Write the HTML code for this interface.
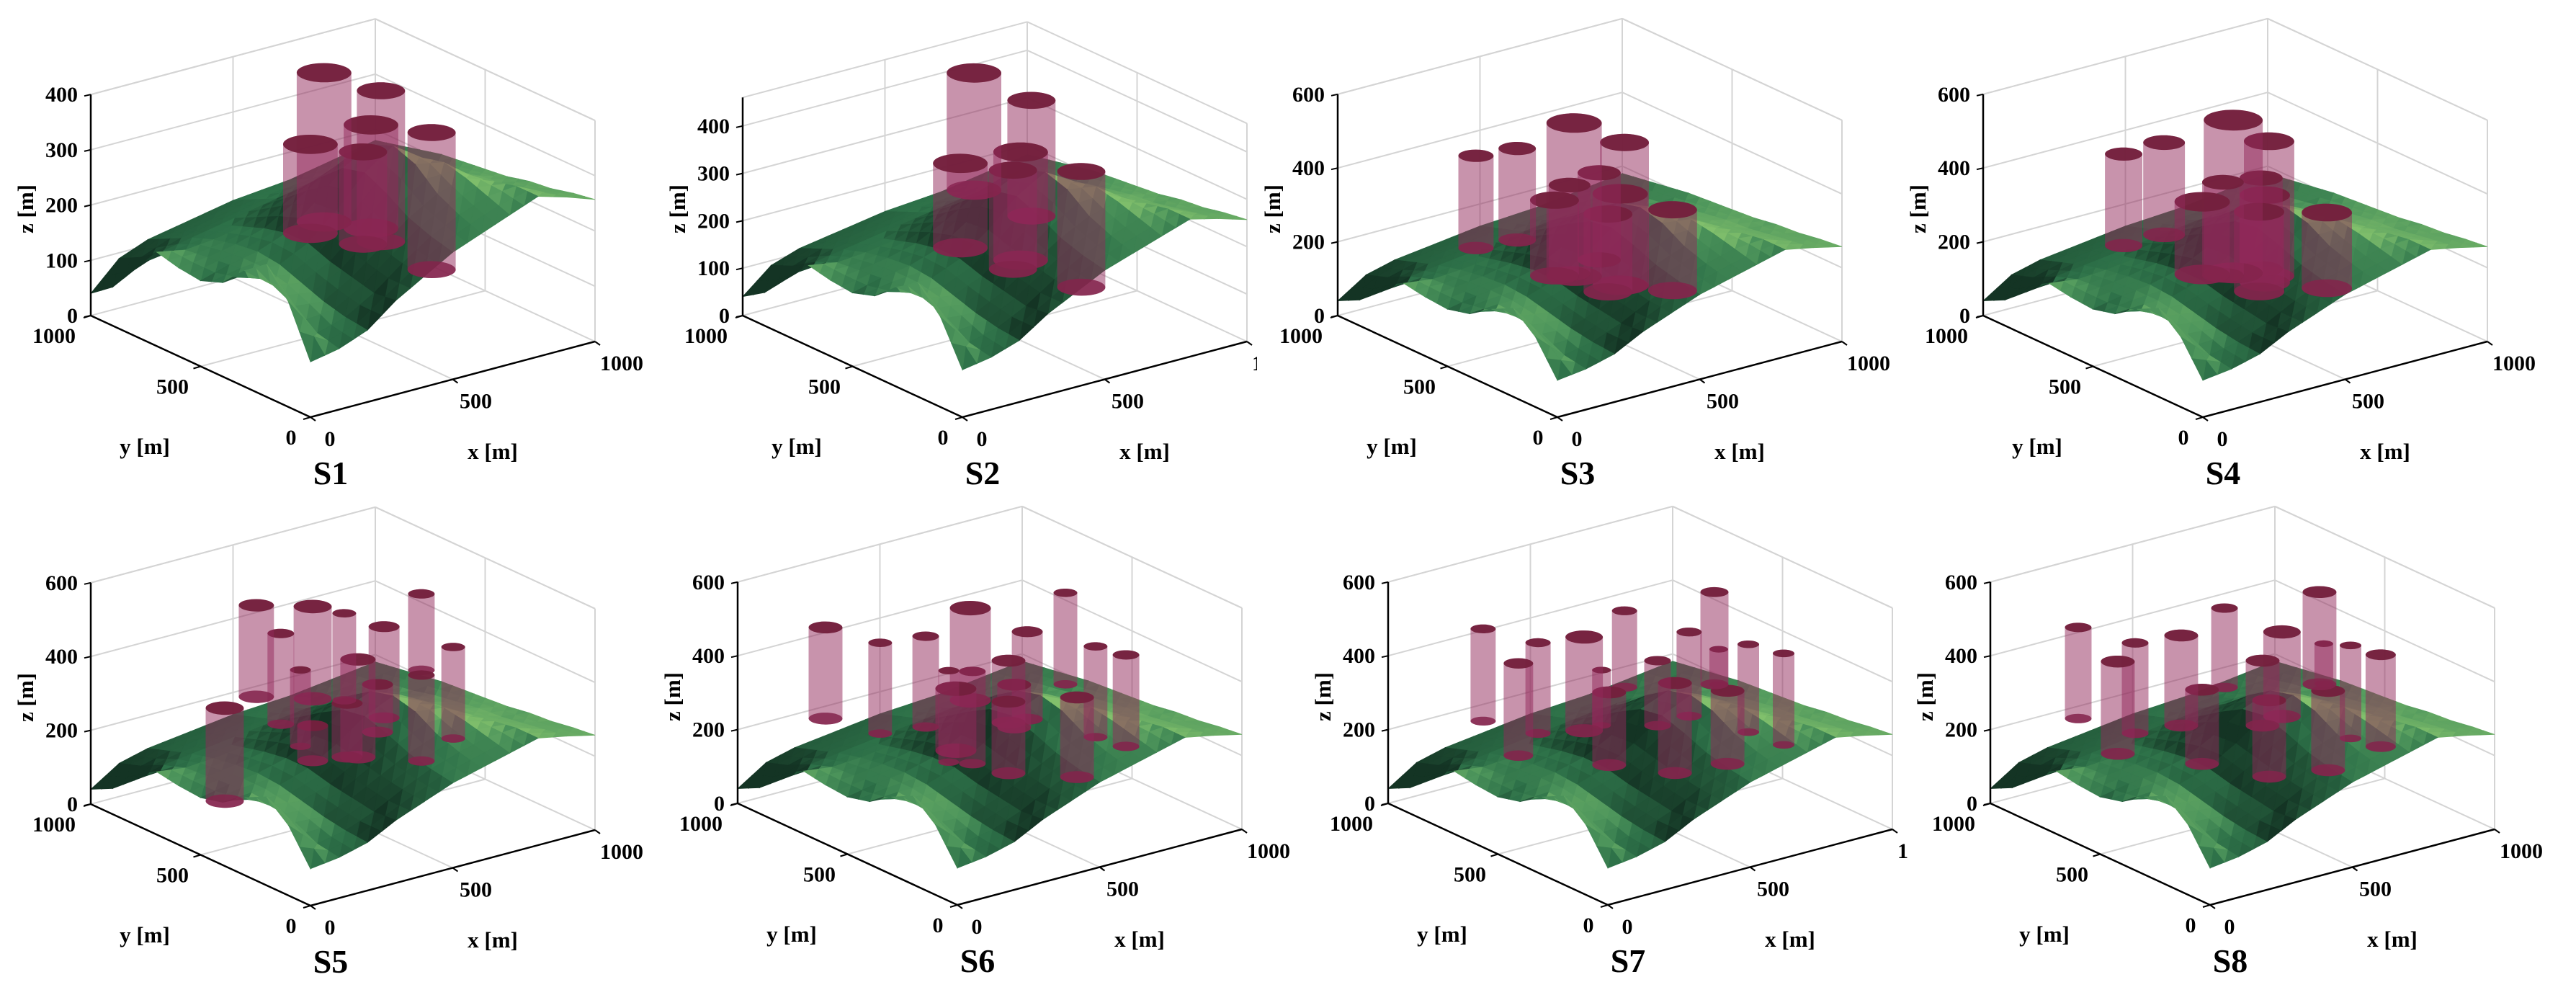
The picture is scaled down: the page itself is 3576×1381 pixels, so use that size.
<!DOCTYPE html>
<html><head><meta charset="utf-8">
<style>
html,body{margin:0;padding:0;background:#fff;}
svg{display:block;}
text{font-family:"Liberation Serif",serif;font-weight:bold;fill:#000;}
</style></head>
<body>
<svg id="fig" width="3576" height="1381" viewBox="0 0 3576 1381" xmlns="http://www.w3.org/2000/svg">
<rect x="0" y="0" width="3576" height="1381" fill="#fff"/>
</svg>
<script>
// ---------- data ----------
// terrain heights [m]: rows y = 0..1000 step 100, cols x = 0..1000 step 100
const terrainZ = [
[100,110,130,170,200,230,250,270,290,275,257],
[190,120,135,165,205,240,265,285,290,265,250],
[240,150,145,175,215,255,285,300,280,255,240],
[210,170,160,185,230,280,320,310,270,245,235],
[170,175,175,200,245,300,335,300,260,240,225],
[155,170,180,200,240,290,320,290,250,230,220],
[160,165,175,190,220,255,280,260,235,220,215],
[170,160,165,175,195,215,230,225,215,205,210],
[120,140,150,160,170,180,190,195,195,195,200],
[70,110,130,140,150,160,165,170,175,180,190],
[40,90,110,120,130,140,145,150,160,170,180]
];
const xTicks = [0,500,1000];
const yTicks = [0,500,1000];
const zTicksA = [0,100,200,300,400];
const zTicksB = [0,200,400,600];
const panelNames = ["S1","S2","S3","S4","S5","S6","S7","S8"];

// cylinders per scenario: centre x, centre y, radius, bottom z, top z [m]
const s1X = [511,711,676,889,463,648];
const s1Y = [600,600,600,600,600,600];
const s1R = [76,67,76,67,76,67];
const s1Zb = [173,110,139,35,159,114];
const s1Zt = [443,383,326,283,320,281];

const s2X = [504,706,668,456,641,881];
const s2Y = [600,600,600,600,600,600];
const s2R = [76,67,76,76,67,67];
const s2Zb = [270,183,96,156,81,5];
const s2Zt = [517,427,324,334,290,249];

const s3X = [177,322,522,699,610,506,453,684,641,868];
const s3Y = [600,600,600,600,600,600,600,600,600,600];
const s3R = [49,52,77,68,60,58,68,77,68,68];
const s3Zb = [257,249,110,49,136,120,125,52,43,0];
const s3Zt = [507,497,525,436,372,360,330,300,254,219];

const s4X = [185,327,570,696,668,534,461,681,661,899];
const s4Y = [600,600,600,600,600,600,600,600,600,600];
const s4R = [52,58,82,70,60,58,77,70,70,70];
const s4Zb = [262,262,109,75,100,110,127,60,40,0];
const s4Zt = [510,512,523,440,346,362,324,297,256,205];

const s5X = [273,471,582,359,722,853,965,162,428,630,471,592,699,853];
const s5Y = [600,600,600,600,600,600,600,600,600,600,600,600,600,600];
const s5R = [49,53,33,37,43,37,33,53,29,49,43,43,43,37];
const s5Zb = [345,299,272,253,196,298,90,85,179,108,131,116,162,52];
const s5Zt = [593,549,508,499,443,505,338,337,386,373,226,262,291,285];

const s6X = [0,192,352,509,709,843,949,1056,643,433,516,458,663,643,884];
const s6Y = [600,600,600,600,600,600,600,600,600,600,600,600,600,600,600];
const s6R = [47,33,37,57,43,33,33,37,47,29,37,57,47,47,47];
const s6Zb = [340,260,245,285,193,260,95,48,197,133,112,159,180,60,0];
const s6Zt = [587,506,491,535,430,508,341,296,365,381,362,327,296,254,216];

const s7X = [25,149,218,380,522,749,838,957,1081,638,468,699,884,853,441];
const s7Y = [600,600,600,600,600,600,600,600,600,600,600,600,600,600,600];
const s7R = [35,41,35,52,35,35,39,30,30,37,47,47,47,26,26];
const s7Zb = [328,209,255,229,318,193,261,107,47,190,118,49,36,257,231];
const s7Zt = [578,459,501,483,525,421,511,345,295,366,315,293,234,353,381];

const s8X = [0,139,200,362,514,716,848,957,1063,648,435,863,878,671];
const s8Y = [600,600,600,600,600,600,600,600,600,600,600,600,600,600];
const s8R = [37,47,37,47,37,52,47,30,42,47,47,26,47,47];
const s8Zb = [340,216,259,247,319,199,259,90,46,188,128,257,20,45];
const s8Zt = [587,466,504,491,534,428,509,342,295,364,329,366,235,252];

const cylX = [s1X,s2X,s3X,s4X,s5X,s6X,s7X,s8X];
const cylY = [s1Y,s2Y,s3Y,s4Y,s5Y,s6Y,s7Y,s8Y];
const cylR = [s1R,s2R,s3R,s4R,s5R,s6R,s7R,s8R];
const cylZb = [s1Zb,s2Zb,s3Zb,s4Zb,s5Zb,s6Zb,s7Zb,s8Zb];
const cylZt = [s1Zt,s2Zt,s3Zt,s4Zt,s5Zt,s6Zt,s7Zt,s8Zt];

// ---------- layout ----------
const panels = [
 {ax:126, ay:438, zmax:400, k:0.767, zt:zTicksA},
 {ax:1031,ay:438, zmax:460, k:0.658, zt:zTicksA},
 {ax:1857,ay:438, zmax:600, k:0.512, zt:zTicksB, clipX:1745},
 {ax:2753,ay:438, zmax:600, k:0.512, zt:zTicksB},
 {ax:126, ay:1116,zmax:600, k:0.512, zt:zTicksB},
 {ax:1024,ay:1115,zmax:600, k:0.512, zt:zTicksB},
 {ax:1927,ay:1115,zmax:600, k:0.512, zt:zTicksB},
 {ax:2763,ay:1115,zmax:600, k:0.512, zt:zTicksB, clipX:2648}
];
const svg = document.getElementById('fig');
const NS = 'http://www.w3.org/2000/svg';
function mk(tag, attrs, parent){
  const e = document.createElementNS(NS, tag);
  for (const k in attrs) e.setAttribute(k, attrs[k]);
  (parent||svg).appendChild(e);
  return e;
}
function proj(p,x,y,z){
  return [p.ax + 305 + 0.395*x - 0.305*y, p.ay + 141 - 0.105*x - 0.141*y - p.k*z];
}
function pts(arr){ return arr.map(q=>q[0].toFixed(1)+','+q[1].toFixed(1)).join(' '); }

const AX = [0.395,-0.105], BY = [-0.305,-0.141];

function terrainAt(x,y){
  const fi = x/100, fj = y/100;
  const i0 = Math.min(9, Math.floor(fi)), j0 = Math.min(9, Math.floor(fj));
  const u = fi - i0, v = fj - j0;
  const z00 = terrainZ[j0][i0], z10 = terrainZ[j0][i0+1], z01 = terrainZ[j0+1][i0], z11 = terrainZ[j0+1][i0+1];
  return z00*(1-u)*(1-v) + z10*u*(1-v) + z01*(1-u)*v + z11*u*v;
}
const stops = [[20,52,36],[45,112,72],[78,150,92],[130,192,108]];
function shade(t){
  t = Math.max(0, Math.min(0.999, t));
  const f = t*(stops.length-1), i = Math.floor(f), u = f-i;
  const a = stops[i], b = stops[i+1];
  return 'rgb('+a.map((c,n)=>Math.round(c+(b[n]-c)*u)).join(',')+')';
}
const L = (function(){ const v=[0.55,-0.25,0.8]; const n=Math.hypot(...v); return v.map(c=>c/n); })();

function drawTerrain(p, g){
  const N = 20, step = 1000/N;
  const tris = [];
  for (let j=0;j<N;j++) for (let i=0;i<N;i++){
    const x0=i*step, x1=x0+step, y0=j*step, y1=y0+step;
    const q = [[x0,y0],[x1,y0],[x1,y1],[x0,y1]].map(c=>[c[0],c[1],terrainAt(c[0],c[1])]);
    tris.push([q[0],q[1],q[2]]);
    tris.push([q[0],q[2],q[3]]);
  }
  tris.sort((a,b)=>{
    const da = a.reduce((s,v)=>s+v[0]+v[1],0), db = b.reduce((s,v)=>s+v[0]+v[1],0);
    return db-da;
  });
  for (const t of tris){
    const e = 2.2;
    const u = [t[1][0]-t[0][0], t[1][1]-t[0][1], (t[1][2]-t[0][2])*e];
    const v = [t[2][0]-t[0][0], t[2][1]-t[0][1], (t[2][2]-t[0][2])*e];
    let n = [u[1]*v[2]-u[2]*v[1], u[2]*v[0]-u[0]*v[2], u[0]*v[1]-u[1]*v[0]];
    if (n[2]<0) n = n.map(c=>-c);
    const nl = Math.hypot(...n);
    const lam = Math.max(0,(n[0]*L[0]+n[1]*L[1]+n[2]*L[2])/nl);
    const zav = (t[0][2]+t[1][2]+t[2][2])/3;
    const col = shade(lam*1.05 - 0.22 + (zav-180)/700);
    const el = mk('polygon',{points:pts(t.map(v=>proj(p,v[0],v[1],v[2]))), fill:col, stroke:col, 'stroke-width':0.8}, g);
    
    
  }
}

function ellipsePts(p,cx,cy,r,z,t0,t1,n){
  const out=[];
  for (let s=0;s<=n;s++){
    const th = t0 + (t1-t0)*s/n;
    const c = Math.cos(th), sn = Math.sin(th);
    out.push(proj(p, cx + r*c, cy + r*sn, z));
  }
  return out;
}
function drawCylinders(p, idx, g){
  const X=cylX[idx], Y=cylY[idx], R=cylR[idx], Zb=cylZb[idx], Zt=cylZt[idx];
  const order = X.map((_,i)=>i).sort((a,b)=>(X[b]+Y[b])-(X[a]+Y[a]));
  const th0 = Math.atan2(BY[0], AX[0]);
  const yoff = th => Math.cos(th)*AX[1] + Math.sin(th)*BY[1];
  const s = yoff(th0+Math.PI/2) > yoff(th0-Math.PI/2) ? 1 : -1;
  for (const i of order){
    const cg = mk('g',{},g);
    
    
    const bot = mk('polygon',{points:pts(ellipsePts(p,X[i],Y[i],R[i],Zb[i],0,2*Math.PI,48)), fill:'#74203d', 'fill-opacity':0.85}, cg);
    
    
    const side = ellipsePts(p,X[i],Y[i],R[i],Zb[i],th0,th0+s*Math.PI,30)
      .concat(ellipsePts(p,X[i],Y[i],R[i],Zt[i],th0+s*Math.PI,th0+2*s*Math.PI,30));
    const body = mk('polygon',{points:pts(side), fill:'rgb(145,40,90)', 'fill-opacity':0.5}, cg);
    
    
    const top = mk('polygon',{points:pts(ellipsePts(p,X[i],Y[i],R[i],Zt[i],0,2*Math.PI,48)), fill:'#74203d', 'fill-opacity':0.97}, cg);
    
    
  }
}

function line(g,a,b,col,w,name){
  const el = mk('line',{x1:a[0].toFixed(1),y1:a[1].toFixed(1),x2:b[0].toFixed(1),y2:b[1].toFixed(1),stroke:col,'stroke-width':w}, g);
  
  
  return el;
}
function text(g,x,y,str,size,anchor,name,extra){
  const el = mk('text',{x:x.toFixed(1),y:y.toFixed(1),'font-size':size,'text-anchor':anchor}, g);
  if (extra) for (const k in extra) el.setAttribute(k, extra[k]);
  el.textContent = str;
  
  
  return el;
}

panels.forEach((p,idx)=>{
  const g = mk('g',{});
  
  
  if (p.clipX !== undefined){
    const top = idx<4 ? 0 : 690;
    const bg = mk('rect',{x:p.clipX,y:top,width:3576-p.clipX,height:idx<4?690:691,fill:'#fff'}, g);
    
    
  }
  const Z = p.zmax;
  const gray = '#d4d4d4';
  p.zt.forEach(z=>{
    if (z===0) return;
    line(g, proj(p,0,1000,z), proj(p,1000,1000,z), gray, 2, 'z-gridline');
    line(g, proj(p,1000,1000,z), proj(p,1000,0,z), gray, 2, 'z-gridline');
  });
  xTicks.forEach(x=>{
    line(g, proj(p,x,1000,0), proj(p,x,1000,Z), gray, 2, 'x-gridline');
    if (x>0 && x<1000) line(g, proj(p,x,0,0), proj(p,x,1000,0), gray, 2, 'x-gridline');
  });
  yTicks.forEach(y=>{
    line(g, proj(p,1000,y,0), proj(p,1000,y,Z), gray, 2, 'y-gridline');
    if (y>0 && y<1000) line(g, proj(p,0,y,0), proj(p,1000,y,0), gray, 2, 'y-gridline');
  });
  line(g, proj(p,0,1000,0), proj(p,1000,1000,0), gray, 2, 'box-edge');
  line(g, proj(p,1000,1000,0), proj(p,1000,0,0), gray, 2, 'box-edge');
  line(g, proj(p,0,1000,Z), proj(p,1000,1000,Z), gray, 2, 'box-edge');
  line(g, proj(p,1000,1000,Z), proj(p,1000,0,Z), gray, 2, 'box-edge');

  const tg = mk('g',{},g);
  
  
  drawTerrain(p, tg);
  const cg = mk('g',{},g);
  
  
  drawCylinders(p, idx, cg);

  line(g, proj(p,0,1000,0), proj(p,0,1000,Z), '#000', 2.5, 'z-axis');
  line(g, proj(p,0,1000,0), proj(p,0,0,0), '#000', 2.5, 'y-axis');
  line(g, proj(p,0,0,0), proj(p,1000,0,0), '#000', 2.5, 'x-axis');
  p.zt.forEach(z=>{
    const q = proj(p,0,1000,z);
    line(g, q, [q[0]-9,q[1]+2], '#000', 2, 'z-tick');
    text(g, q[0]-18, q[1]+10, String(z), 30, 'end', 'z-tick-label');
  });
  yTicks.forEach(y=>{
    const q = proj(p,0,y,0);
    line(g, q, [q[0]-10,q[1]+3], '#000', 2, 'y-tick');
    text(g, q[0]-27-0.024*y, q[1]+38, String(y), 30, 'middle', 'y-tick-label');
  });
  xTicks.forEach(x=>{
    const q = proj(p,x,0,0);
    line(g, q, [q[0]+7,q[1]+5], '#000', 2, 'x-tick');
    text(g, q[0]+27+0.01*x, q[1]+40, String(x), 30, 'middle', 'x-tick-label');
  });
  text(g, p.ax+75, p.ay+192, 'y [m]', 31, 'middle', 'y-axis-title');
  text(g, p.ax+558, p.ay+199, 'x [m]', 31, 'middle', 'x-axis-title');
  text(g, p.ax-80, p.ay-148, 'z [m]', 31, 'middle', 'z-axis-title', {transform:'rotate(-90 '+(p.ax-80)+' '+(p.ay-148)+')'});
  text(g, p.ax+333, p.ay+234, panelNames[idx], 46, 'middle', 'panel-title');
});
</script>
</body></html>
